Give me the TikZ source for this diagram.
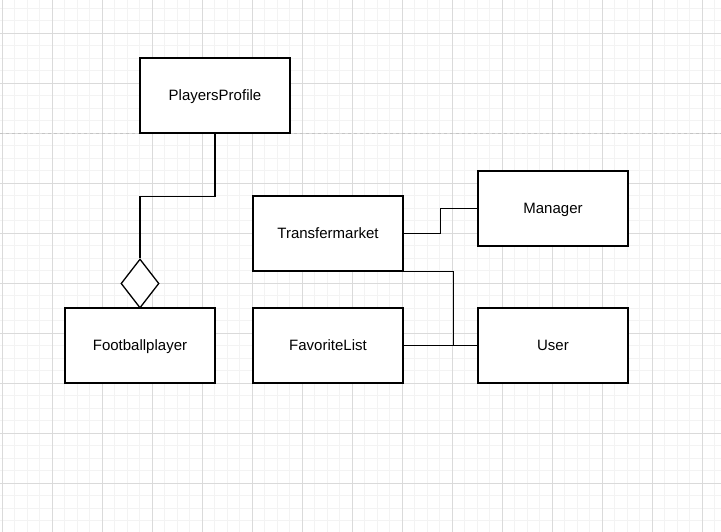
\documentclass[tikz,border=0pt]{standalone}
\usepackage{fontspec}
\setmainfont{Liberation Sans}
\usetikzlibrary{shapes.geometric}
\definecolor{gridminor}{HTML}{F3F3F3}
\definecolor{gridmajor}{HTML}{DADADA}
\definecolor{pagebreak}{HTML}{C4C4C4}
\begin{document}
\begin{tikzpicture}[x=1pt,y=-1pt,
  classbox/.style={draw,line width=1.3pt,fill=white,minimum width=150pt,minimum height=75pt,inner sep=0pt,text depth=0pt,font=\fontsize{15}{18}\selectfont},
  link/.style={line width=1.3pt}]
\useasboundingbox[fill=white] (0,0) rectangle (721,532);
% grid
\foreach \gx in {0,...,57} \draw[gridminor,line width=0.7pt] (2+12.5*\gx,0) -- (2+12.5*\gx,532);
\foreach \gy in {0,...,41} \draw[gridminor,line width=0.7pt] (0,8+12.5*\gy) -- (721,8+12.5*\gy);
\foreach \gx in {0,...,14} \draw[gridmajor,line width=0.8pt] (2+50*\gx,0) -- (2+50*\gx,532);
\foreach \gy in {0,...,9} \draw[gridmajor,line width=0.8pt] (0,33+50*\gy) -- (721,33+50*\gy);
\draw[pagebreak,dashed,line width=0.9pt] (0,133) -- (721,133);
% classes
\node[classbox] (pp) at (215,95.5) {PlayersProfile};
\node[classbox] (fb) at (140,345.5) {Footballplayer};
\node[classbox] (tm) at (328,233.5) {Transfermarket};
\node[classbox] (mg) at (553,208.5) {Manager};
\node[classbox] (fl) at (328,345.5) {FavoriteList};
\node[classbox] (us) at (553,345.5) {User};
\node[draw,diamond,line width=1.3pt,fill=white,inner sep=0pt,minimum width=38pt,minimum height=49pt] (dia) at (140,283.5) {};
% links
\draw[link] (pp.south) -- ++(0,63) -| (dia.north);
\draw[link] (tm.east) -- ++(37,0) |- (mg.west);
\draw[link] (tm.south east) -- ++(50,0) |- (us.west);
\draw[link] (fl.east) -- (us.west);
\end{tikzpicture}
\end{document}
